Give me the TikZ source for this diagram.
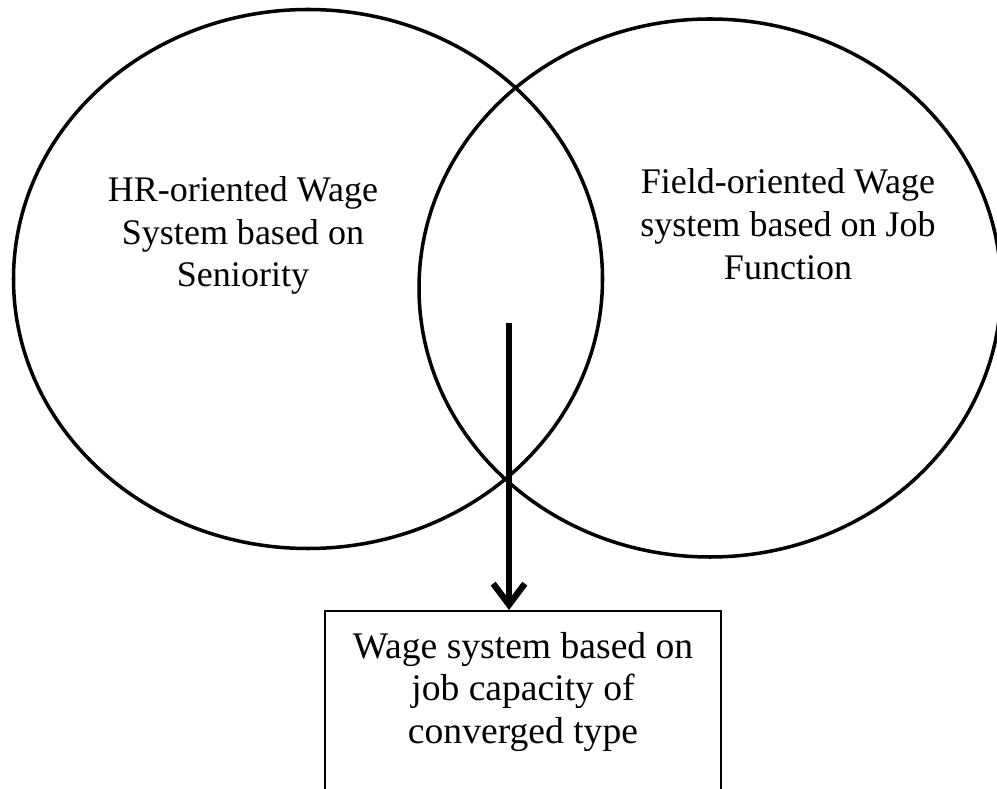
\documentclass[tikz,border=0pt]{standalone}
\usepackage{fontspec}
\setmainfont{Liberation Serif}
\usetikzlibrary{arrows.meta, positioning}

\begin{document}
\begin{tikzpicture}[x=0.02cm, y=0.02cm,
        ring/.style={color=black, line width=2pt},
        systext/.style={align=center, font=\fontsize{20.5}{24.4}\selectfont},
        outcome/.style={draw, color=black, line width=1.4pt, minimum width=7.92cm, minimum height=4.4cm, anchor=north}]
        \useasboundingbox (0,0) rectangle (997,788);
        \clip (0,0) rectangle (997,788);
        % the two overlapping wage systems
        \draw[ring] (308,509) ellipse [x radius=294.5, y radius=269.5];
        \draw[ring] (710,500) ellipse [x radius=291, y radius=269];
        \node[systext] (hrwage) at (243,552.5) {HR-oriented Wage\\ System based on\\ Seniority};
        \node[systext] (fieldwage) at (788,563.5) {Field-oriented Wage\\ system based on Job\\ Function};
        %
        % converged type, box runs off the bottom edge
        \node[outcome] (convbox) at (523,178) {};
        \node[systext, font=\fontsize{21.4}{24.4}\selectfont] (convtext) at (523,96) {Wage system based on\\ job capacity of\\ converged type};
        \coordinate (drop) at (509,465);
        \draw[line width=3.6pt, -{Straight Barb[length=12pt, width=18pt]}] (drop) -- (drop |- convbox.north);
    \end{tikzpicture}
\end{document}
